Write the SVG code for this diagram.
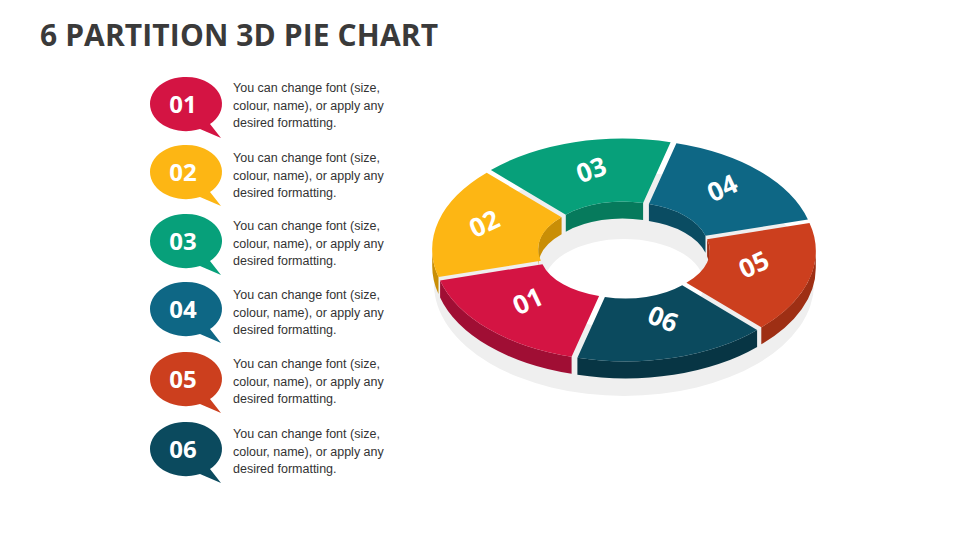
<svg xmlns="http://www.w3.org/2000/svg" width="960" height="540" viewBox="0 0 960 540">
<style>
.t{font-family:"Liberation Sans",Arial,sans-serif;font-size:12.5px;fill:#333}
.bn{font-family:"Open Sans","Liberation Sans",sans-serif;font-weight:bold;font-size:24px;fill:#fff;text-anchor:middle}
.pn{font-family:"Open Sans","Liberation Sans",sans-serif;font-weight:bold;font-size:26px;fill:#fff;text-anchor:middle}
</style>
<defs>
<path id="bub" d="M-36,0 A36,27 0 1 1 24,20 L35,34 L14,25 A36,27 0 0 1 -36,0 Z"/>
</defs>
<rect width="960" height="540" fill="#fff"/>
<text x="40" y="46" font-family="'Open Sans','Liberation Sans',sans-serif" font-weight="bold" font-size="30" fill="#3a3a3a" textLength="398">6 PARTITION 3D PIE CHART</text>

<g id="item1"><use href="#bub" x="186" y="104" fill="#D41443"/><text class="bn" x="183" y="113">01</text>
<text class="t" x="233" y="92">You can change font (size,</text><text class="t" x="233" y="110">colour, name), or apply any</text><text class="t" x="233" y="127">desired formatting.</text></g>
<g id="item2"><use href="#bub" x="186" y="172" fill="#FDB614"/><text class="bn" x="183" y="181">02</text>
<text class="t" x="233" y="162">You can change font (size,</text><text class="t" x="233" y="180">colour, name), or apply any</text><text class="t" x="233" y="197">desired formatting.</text></g>
<g id="item3"><use href="#bub" x="186" y="241" fill="#07A07A"/><text class="bn" x="183" y="250">03</text>
<text class="t" x="233" y="230">You can change font (size,</text><text class="t" x="233" y="248">colour, name), or apply any</text><text class="t" x="233" y="265">desired formatting.</text></g>
<g id="item4"><use href="#bub" x="186" y="309" fill="#0E6785"/><text class="bn" x="183" y="318">04</text>
<text class="t" x="233" y="299">You can change font (size,</text><text class="t" x="233" y="317">colour, name), or apply any</text><text class="t" x="233" y="334">desired formatting.</text></g>
<g id="item5"><use href="#bub" x="186" y="379" fill="#CC3F1E"/><text class="bn" x="183" y="388">05</text>
<text class="t" x="233" y="368">You can change font (size,</text><text class="t" x="233" y="386">colour, name), or apply any</text><text class="t" x="233" y="403">desired formatting.</text></g>
<g id="item6"><use href="#bub" x="186" y="449" fill="#0B4A5E"/><text class="bn" x="183" y="458">06</text>
<text class="t" x="233" y="438">You can change font (size,</text><text class="t" x="233" y="456">colour, name), or apply any</text><text class="t" x="233" y="473">desired formatting.</text></g>

<g id="pie">
<path d="M434,284 A190,112 0 1 0 814,284 A190,112 0 1 0 434,284 Z M544,284 A80,45 0 1 1 704,284 A80,45 0 1 1 544,284 Z" fill="#efefef" fill-rule="evenodd"/>
<!-- sides -->
<g transform="translate(-5.8,-0.9)"><path d="M544,250 A80,45 0 0 1 567.4,218.2 L567.4,235.2 A80,45 0 0 0 544,267 Z" fill="#C98E06"/><path d="M444.3,278 A186,108 0 0 1 438,250 L438,267 A186,108 0 0 0 444.3,295 Z" fill="#C98E06"/></g>
<g transform="translate(-1.6,-3.5)"><path d="M567.4,218.2 A80,45 0 0 1 644.7,206.5 L644.7,223.5 A80,45 0 0 0 567.4,235.2 Z" fill="#067A5C"/></g>
<g transform="translate(4.2,-2.5)"><path d="M644.7,206.5 A80,45 0 0 1 701.3,238.3 L701.3,255.3 A80,45 0 0 0 644.7,223.5 Z" fill="#0A4C62"/></g>
<g transform="translate(5.8,0.9)"><path d="M701.3,238.3 A80,45 0 0 1 704,250 L704,267 A80,45 0 0 0 701.3,255.3 Z" fill="#9E2F14"/><path d="M810,250 A186,108 0 0 1 755.5,326.4 L755.5,343.4 A186,108 0 0 0 810,267 Z" fill="#9E2F14"/></g>
<g transform="translate(1.6,3.5)"><path d="M755.5,326.4 A186,108 0 0 1 575.8,354.3 L575.8,371.3 A186,108 0 0 0 755.5,343.4 Z" fill="#073544"/></g>
<g transform="translate(-4.2,2.5)"><path d="M575.8,354.3 A186,108 0 0 1 444.3,278 L444.3,295 A186,108 0 0 0 575.8,371.3 Z" fill="#A00E34"/></g>
<!-- tops -->
<g id="seg02" transform="translate(-5.8,-0.9)"><path d="M444.3,278 A186,108 0 0 1 492.5,173.6 L567.4,218.2 A80,45 0 0 0 546.7,261.7 Z" fill="#FDB614"/><text class="pn" transform="translate(494,233) rotate(-25)">02</text></g>
<g id="seg03" transform="translate(-1.6,-3.5)"><path d="M492.5,173.6 A186,108 0 0 1 672.2,145.7 L644.7,206.5 A80,45 0 0 0 567.4,218.2 Z" fill="#07A07A"/><text class="pn" transform="translate(596,182) rotate(-20)">03</text></g>
<g id="seg04" transform="translate(4.2,-2.5)"><path d="M672.2,145.7 A186,108 0 0 1 803.7,222 L701.3,238.3 A80,45 0 0 0 644.7,206.5 Z" fill="#0E6785"/><text class="pn" transform="translate(722,199) rotate(-25)">04</text></g>
<g id="seg05" transform="translate(5.8,0.9)"><path d="M803.7,222 A186,108 0 0 1 755.5,326.4 L680.6,281.8 A80,45 0 0 0 701.3,238.3 Z" fill="#CC3F1E"/><text class="pn" transform="translate(752,272) rotate(-25)">05</text></g>
<g id="seg06" transform="translate(1.6,3.5)"><path d="M755.5,326.4 A186,108 0 0 1 575.8,354.3 L603.3,293.5 A80,45 0 0 0 680.6,281.8 Z" fill="#0B4A5E"/><text class="pn" transform="translate(658,324) rotate(22)">06</text></g>
<g id="seg01" transform="translate(-4.2,2.5)"><path d="M575.8,354.3 A186,108 0 0 1 444.3,278 L546.7,261.7 A80,45 0 0 0 603.3,293.5 Z" fill="#D41443"/><text class="pn" transform="translate(536,307) rotate(-25)">01</text></g>
</g>
</svg>
